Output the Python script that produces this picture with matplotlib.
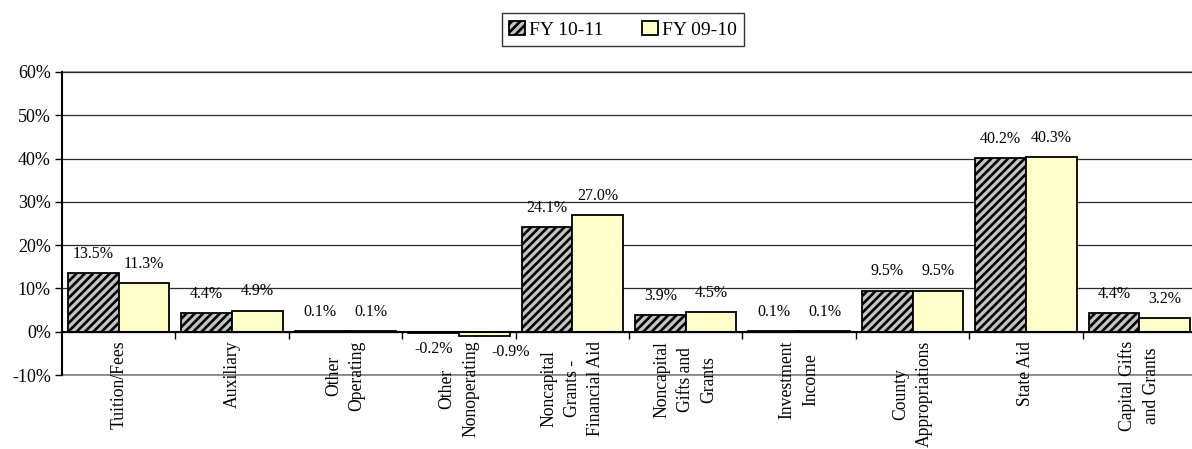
import numpy as np
import matplotlib
matplotlib.use("Agg")
import matplotlib.pyplot as plt

plt.rcParams['font.family'] = ['Liberation Serif', 'DejaVu Serif']
plt.rcParams['hatch.color'] = '#4a4a4a'
plt.rcParams['hatch.linewidth'] = 1.9

# data (percent)
categories = ['Tuition/Fees', 'Auxiliary', 'Other\nOperating', 'Other\nNonoperating',
              'Noncapital\nGrants -\nFinancial Aid', 'Noncapital\nGifts and\nGrants',
              'Investment\nIncome', 'County\nAppropriations', 'State Aid',
              'Capital Gifts\nand Grants']
fy_10_11 = [13.5, 4.4, 0.1, -0.2, 24.1, 3.9, 0.1, 9.5, 40.2, 4.4]
fy_09_10 = [11.3, 4.9, 0.1, -0.9, 27.0, 4.5, 0.1, 9.5, 40.3, 3.2]
yticks = [-10, 0, 10, 20, 30, 40, 50, 60]

fig = plt.figure(figsize=(11.92, 4.49), dpi=100)
ax = fig.add_axes([62 / 1192, 74 / 449, 1134 / 1192, 303 / 449])

x = np.arange(len(categories))
w = 0.447
b1 = ax.bar(x - w / 2, fy_10_11, w, color='#c4c4c4', hatch='////',
            edgecolor='black', linewidth=1.3, label='FY 10-11', zorder=3)
b2 = ax.bar(x + w / 2, fy_09_10, w, color='#ffffcc',
            edgecolor='black', linewidth=1.3, label='FY 09-10', zorder=3)

for k, (bars, vals) in enumerate([(b1, fy_10_11), (b2, fy_09_10)]):
    for r, v in zip(bars, vals):
        cx = r.get_x() + r.get_width() / 2
        if v >= 0:
            ax.annotate('%.1f%%' % v, (cx, v), xytext=(0, 8), textcoords='offset points',
                        ha='center', va='bottom', fontsize=11.5)
        else:
            # second series negative label sits off to the right, clear of the category text
            dx = 19 if k == 1 else 0
            ax.annotate('%.1f%%' % v, (cx, v), xytext=(dx, -6), textcoords='offset points',
                        ha='center', va='top', fontsize=11.5)

ax.set_xlim(-0.5, len(categories) - 0.5)
ax.set_ylim(-10, 60)
ax.set_yticks(yticks)
ax.set_yticklabels(['%d%%' % t for t in yticks], fontsize=13)
ax.yaxis.grid(True, color='#2a2a2a', linewidth=0.9, zorder=0)
ax.axhline(60, color='#808080', linewidth=1.2, zorder=1, clip_on=False)
ax.axhline(-10, color='#808080', linewidth=1.2, zorder=1, clip_on=False)
ax.tick_params(axis='y', length=5, width=1, direction='out', pad=3)

ax.spines['top'].set_visible(False)
ax.spines['right'].set_visible(False)
ax.spines['left'].set_linewidth(1.5)
ax.spines['bottom'].set_position(('data', 0))
ax.spines['bottom'].set_linewidth(1.5)
ax.spines['bottom'].set_zorder(4)

ax.set_xticks(x)
ax.set_xticklabels(categories, rotation=90, fontsize=12.7, multialignment='center',
                   linespacing=1.5)
ax.set_xticks(np.arange(0.5, len(categories) - 0.5, 1), minor=True)
ax.tick_params(axis='x', which='major', length=0, pad=6.5)
ax.tick_params(axis='x', which='minor', length=5, width=1, direction='out')

leg = fig.legend(handles=[b1, b2], loc='upper center', bbox_to_anchor=(623 / 1192, 1 - 3 / 449),
                 ncol=2, fontsize=14, frameon=True, fancybox=False, edgecolor='black',
                 handlelength=0.8, handleheight=0.8, handletextpad=0.2, columnspacing=2.0,
                 borderpad=0.4)
leg.get_frame().set_linewidth(1.0)

fig.savefig('out.png', dpi=100)
